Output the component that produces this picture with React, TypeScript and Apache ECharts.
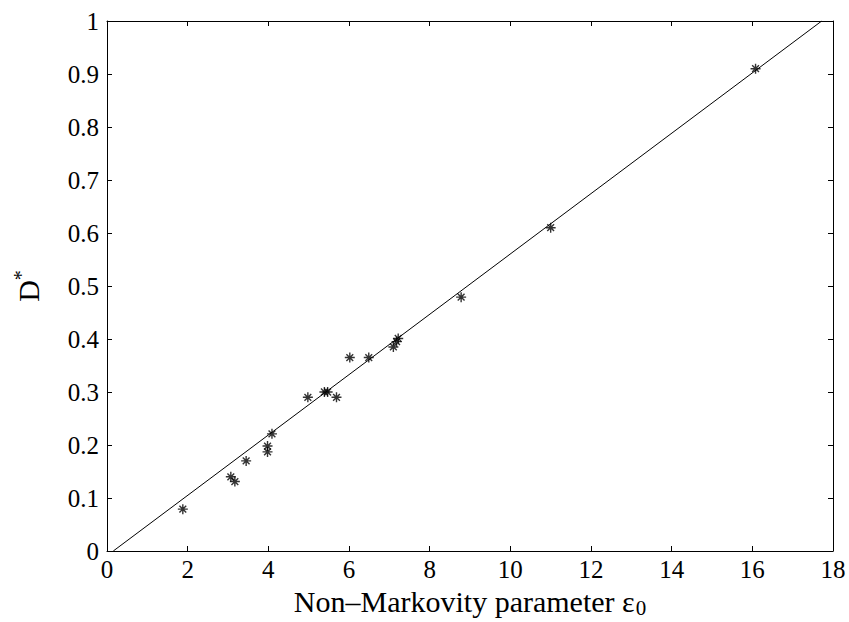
import React, { useEffect, useRef } from "react";
import * as echarts from "echarts";

const epsilon = [1.88, 3.07, 3.17, 3.45, 3.98, 3.98, 4.09, 4.98, 5.39, 5.47, 5.69, 6.02, 6.49, 7.1, 7.18, 7.22, 8.78, 11.0, 16.08];
const dStar = [0.079, 0.14, 0.131, 0.17, 0.198, 0.187, 0.221, 0.29, 0.3, 0.3, 0.29, 0.365, 0.365, 0.385, 0.395, 0.401, 0.479, 0.61, 0.91];
const fitLine = [
  [0.156, 0],
  [17.72, 1],
];
const xTicks = { min: 0, max: 18, interval: 2 };
const yTicks = { min: 0, max: 1, interval: 0.1 };

const FONT = "Liberation Serif";
const ASTERISK = "path://M0 5H10M5 0V10M1.6 1.6L8.4 8.4M8.4 1.6L1.6 8.4";

export default function App() {
  const ref = useRef<HTMLDivElement>(null);
  useEffect(() => {
    if (!ref.current) return;
    const chart = echarts.init(ref.current, null, { renderer: "svg" });
    const axisLine = { show: true, onZero: false, lineStyle: { color: "#000", width: 1 } };
    const axisTick = { show: true, inside: true, length: 5, lineStyle: { color: "#000", width: 1 } };
    chart.setOption({
      animation: false,
      backgroundColor: "#fff",
      grid: { left: 107, right: 16, top: 21, bottom: 71, containLabel: false, outerBoundsMode: "none" },
      xAxis: [
        {
          type: "value",
          ...xTicks,
          position: "bottom",
          axisLine,
          axisTick,
          splitLine: { show: false },
          axisLabel: { color: "#000", fontFamily: FONT, fontSize: 25, margin: 6 },
          name: "{t|Non\u2013Markovity parameter \u03b5}{s|0}",
          nameLocation: "middle",
          nameGap: 17,
          nameTextStyle: {
            rich: {
              t: { fontFamily: FONT, fontSize: 30, color: "#000", verticalAlign: "top", lineHeight: 32 },
              s: { fontFamily: FONT, fontSize: 21, color: "#000", verticalAlign: "bottom", lineHeight: 24, padding: [10, 0, 0, 1] },
            },
          },
        },
        {
          type: "value",
          ...xTicks,
          position: "top",
          axisLine,
          axisTick,
          splitLine: { show: false },
          axisLabel: { show: false },
        },
      ],
      yAxis: [
        {
          type: "value",
          ...yTicks,
          position: "left",
          axisLine,
          axisTick,
          splitLine: { show: false },
          axisLabel: { color: "#000", fontFamily: FONT, fontSize: 25, margin: 8 },
          name: "{d|D}{s|*}",
          nameLocation: "middle",
          nameGap: 62,
          nameTextStyle: {
            rich: {
              d: { fontFamily: FONT, fontSize: 30, color: "#000", lineHeight: 34 },
              s: { fontFamily: FONT, fontSize: 20, color: "#000", verticalAlign: "top", lineHeight: 34 },
            },
          },
        },
        {
          type: "value",
          ...yTicks,
          position: "right",
          axisLine,
          axisTick,
          splitLine: { show: false },
          axisLabel: { show: false },
        },
      ],
      series: [
        {
          type: "line",
          data: fitLine,
          xAxisIndex: 0,
          yAxisIndex: 0,
          showSymbol: false,
          symbol: "none",
          lineStyle: { color: "#000", width: 1 },
          silent: true,
        },
        {
          type: "scatter",
          data: epsilon.map((x, i) => [x, dStar[i]]),
          xAxisIndex: 0,
          yAxisIndex: 0,
          symbol: ASTERISK,
          symbolSize: 10,
          itemStyle: { color: "#000", borderColor: "#000", borderWidth: 1.4 },
        },
      ],
    });
    return () => chart.dispose();
  }, []);
  return <div ref={ref} style={{ position: "fixed", left: 0, top: 0, width: 849, height: 622 }} />;
}
